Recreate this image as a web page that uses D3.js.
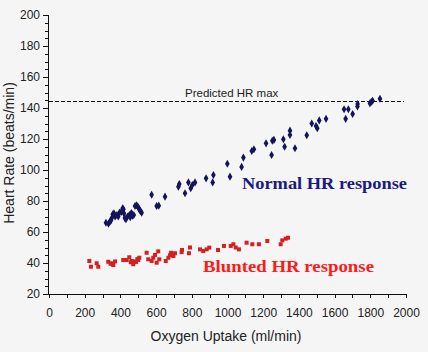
<!DOCTYPE html>
<html>
<head>
<meta charset="utf-8">
<script src="https://cdn.jsdelivr.net/npm/d3@7"></script>
<style>
body { margin: 0; background: #f5f5f5; }
svg { display: block; }
.tick text { font-family: Arial, "Liberation Sans", sans-serif; font-size: 12px; fill: #222; }
</style>
</head>
<body>
<div id="chart"></div>
<script>
// oxygen uptake (ml/min), heart rate (beats/min)
var normalX = [319,333,340,347,352,357,364,370,380,388,395,405,413,417,420,425,431,440,450,455,460,463,468,475,482,491,500,506,512,519,575,603,615,650,725,730,762,781,794,803,818,880,917,921,999,1014,1079,1089,1136,1148,1216,1247,1251,1260,1313,1320,1350,1350,1378,1444,1472,1496,1503,1514,1552,1653,1662,1677,1701,1728,1729,1798,1806,1813,1854]
var normalY = [66,65.4,66.5,67.5,69,71.4,72,70,71,70,72.5,73,75.3,74.6,72,69,68.2,70,71,69.5,72,72,70.5,71,76.8,77.2,76,74.6,73.5,72.5,84,76.8,77,82.8,89.2,91,85,92,88.2,90.3,92,94.6,92,96.8,104,95.7,102,108,112.3,113.4,117.2,109.7,118.9,119.4,119.8,115,122.6,125.4,114,122.4,130,128.4,126.9,132,133,139.2,133,139.2,136.1,141,142.6,143,144,144.7,146]

var bluntedX = [226,235,267,276,332,345,351,360,370,416,435,450,458,463,472,480,487,495,500,506,547,556,575,584,594,603,612,618,654,669,678,684,697,706,743,745,784,790,846,864,883,898,947,980,1018,1033,1046,1064,1107,1139,1176,1223,1298,1307,1326,1339]
var bluntedY = [41.3,37.6,39.8,37.6,40.8,39.5,39.8,38.7,41,41.9,41.9,43.7,40.5,41.3,39.2,41,40.6,42.5,41.9,43.4,46.6,42.4,41.3,43.4,45.2,40.2,47.5,42.4,41.3,43.4,45,46.6,44.5,46.3,47,48.4,46.3,50,48.8,47.7,48.8,49.9,48.4,51,51,52.1,50,48.8,53.1,52.1,52.1,54.2,52.1,54.6,55.7,56.3]

var hrMax = 144.5
var xTicks = [0,200,400,600,800,1000,1200,1400,1600,1800,2000]
var yTicks = [20,40,60,80,100,120,140,160,180,200]

var width = 428, height = 352

var svg = d3.select("#chart").append("svg")
    .attr("width", width)
    .attr("height", height)
    .style("background", "#f5f5f5")

var x = d3.scaleLinear().domain([0, 2000]).range([49, 406])
var y = d3.scaleLinear().domain([20, 200]).range([294, 15])

// minor ticks first, then the labelled ones on top
svg.append("g")
    .attr("transform", "translate(0,294)")
    .call(d3.axisBottom(x).tickValues(d3.range(0, 2001, 100)).tickSize(4).tickFormat(""))
svg.append("g")
    .attr("transform", "translate(0,294)")
    .call(d3.axisBottom(x).tickValues(xTicks).tickSize(4).tickPadding(10).tickFormat(d3.format("d")))

svg.append("g")
    .attr("transform", "translate(48,0)")
    .call(d3.axisLeft(y).tickValues(d3.range(20, 201, 5)).tickSize(3).tickFormat(""))
svg.append("g")
    .attr("transform", "translate(48,0)")
    .call(d3.axisLeft(y).tickValues(yTicks).tickSize(5).tickPadding(3).tickFormat(d3.format("d")))

svg.selectAll(".domain").attr("stroke", "#111").attr("shape-rendering", "crispEdges")
svg.selectAll(".tick line").attr("stroke", "#111").attr("shape-rendering", "crispEdges")

// predicted max line
svg.append("line")
    .attr("x1", x(0)).attr("x2", x(2000) - 2)
    .attr("y1", Math.round(y(hrMax)) + 0.5).attr("y2", Math.round(y(hrMax)) + 0.5)
    .attr("stroke", "#111")
    .attr("stroke-dasharray", "4,2")
svg.append("text")
    .attr("x", 185).attr("y", y(hrMax) - 4)
    .style("font-family", "Arial, 'Liberation Sans', sans-serif")
    .style("font-size", "11.5px")
    .style("fill", "#222")
    .text("Predicted HR max")

// blunted response
svg.append("g").selectAll("rect")
    .data(d3.range(bluntedX.length))
    .enter().append("rect")
    .attr("x", function(i) { return x(bluntedX[i]) - 2 })
    .attr("y", function(i) { return y(bluntedY[i]) - 2 })
    .attr("width", 4)
    .attr("height", 4)
    .attr("fill", "#d42020")

// normal response
svg.append("g").selectAll("path")
    .data(d3.range(normalX.length))
    .enter().append("path")
    .attr("d", d3.symbol().type(d3.symbolDiamond).size(19))
    .attr("transform", function(i) { return "translate(" + x(normalX[i]) + "," + y(normalY[i]) + ")" })
    .attr("fill", "#14145a")

svg.append("text")
    .attr("x", 242).attr("y", 189)
    .attr("textLength", 165)
    .attr("lengthAdjust", "spacingAndGlyphs")
    .style("font-family", "'Times New Roman', 'Liberation Serif', serif")
    .style("font-weight", "bold")
    .style("font-size", "16.5px")
    .style("fill", "#1a1a80")
    .text("Normal HR response")

svg.append("text")
    .attr("x", 203).attr("y", 272)
    .attr("textLength", 171)
    .attr("lengthAdjust", "spacingAndGlyphs")
    .style("font-family", "'Times New Roman', 'Liberation Serif', serif")
    .style("font-weight", "bold")
    .style("font-size", "16.5px")
    .style("fill", "#ff1a1a")
    .text("Blunted HR response")

// axis titles
svg.append("text")
    .attr("x", 226).attr("y", 341)
    .attr("text-anchor", "middle")
    .style("font-family", "Arial, 'Liberation Sans', sans-serif")
    .style("font-size", "14px")
    .style("fill", "#222")
    .text("Oxygen Uptake (ml/min)")

svg.append("text")
    .attr("transform", "translate(14,153) rotate(-90)")
    .attr("text-anchor", "middle")
    .style("font-family", "Arial, 'Liberation Sans', sans-serif")
    .style("font-size", "14px")
    .style("fill", "#222")
    .text("Heart Rate (beats/min)")
</script>
</body>
</html>
